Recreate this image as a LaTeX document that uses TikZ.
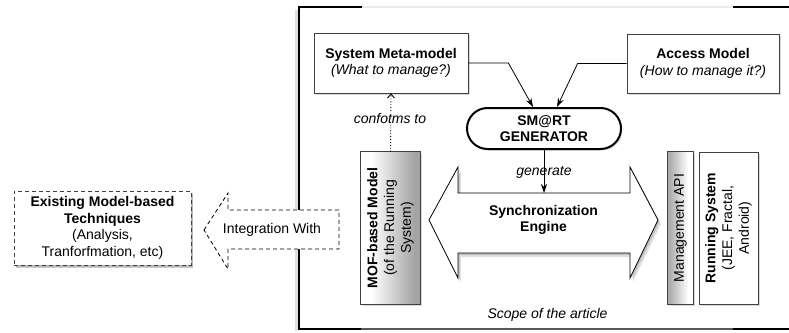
\documentclass[tikz,border=0pt]{standalone}
\usepackage{fontspec}
\setmainfont{Liberation Sans}
\usetikzlibrary{arrows.meta,shapes.misc,shadows,calc}
\begin{document}
\begin{tikzpicture}[x=1pt,y=-1pt,
  font=\fontsize{14}{16.7}\selectfont,
  shad/.style={drop shadow={shadow xshift=1.5pt,shadow yshift=-1.5pt,opacity=.3}},
  box/.style={draw=black!75, line width=0.8pt, fill=white, align=center, inner sep=2pt, shad},
  gbox/.style={draw=black!75, line width=0.8pt, fill=white, inner sep=0pt, shad},
  conn/.style={line width=0.8pt, -{Stealth[length=9pt,width=6pt]}},
]
\useasboundingbox (0,0) rectangle (789,332);

% scope frame
\draw[line width=3pt, black!12] (296,10) -- (296,331);
\draw[line width=1.5pt, black!8] (362,7) -- (733,7);
\draw[line width=2pt, black!65] (361,329) -- (733,329);
\draw[line width=2pt, black] (362,7) -- (299,7) -- (299,329) -- (361,329);
\draw[line width=2pt, black] (733,7) -- (789,7);
\draw[line width=2pt, black] (733,329) -- (789,329);

% top boxes
\node[box, minimum width=154pt, minimum height=60pt] (sysmm) at (391,63)
  {\textbf{System Meta-model}\\\textit{(What to manage?)}};
\node[box, minimum width=152pt, minimum height=59pt] (access) at (703,63.5)
  {\textbf{Access Model}\\\textit{(How to manage it?)}};
\node[draw, line width=2pt, rounded rectangle, fill=white, minimum width=158pt,
  minimum height=41pt, align=center, inner sep=2pt, shad,
  font=\fontsize{14}{16.7}\selectfont\bfseries] (gen) at (544,128.5) {SM@RT\\GENERATOR};

% vertical boxes with left-right gradients
\node[gbox, minimum width=59pt, minimum height=152pt] (mofbg) at (390.5,228) {};
\foreach \i in {0,...,58} {
  \pgfmathsetmacro\c{min(36,max(0,(\i-10)*36/44))}
  \fill[black!\c] (361+\i,152) rectangle (362.2+\i,304);
}
\draw[draw=black!75, line width=0.8pt] (mofbg.south west) rectangle (mofbg.north east);
\node[rotate=90, align=center] (mof) at (mofbg.center)
  {\textbf{MOF-based Model}\\(of the Running\\System)};

\node[gbox, minimum width=25pt, minimum height=152pt] (mapibg) at (680.5,228) {};
\foreach \i in {0,...,24} {
  \pgfmathsetmacro\c{min(32,max(0,(20-\i)*32/18))}
  \fill[black!\c] (668+\i,152) rectangle (669.2+\i,304);
}
\draw[draw=black!75, line width=0.8pt] (mapibg.south west) rectangle (mapibg.north east);
\node[rotate=90] (mapi) at (mapibg.center) {Management API};

\node[box, rotate=90, minimum width=152pt, minimum height=59pt] (runsys) at (728.5,228)
  {\textbf{Running System}\\(JEE, Fractal,\\Android)};

% synchronization engine double arrow
\fill[black, opacity=.12, shift={(3,4)}] (429,220) -- (458,167) -- (458,193) -- (630,193) -- (630,167)
  -- (658,220) -- (630,278) -- (630,253) -- (458,253) -- (458,278) -- cycle;
\fill[black, opacity=.15, shift={(1.5,2)}] (429,220) -- (458,167) -- (458,193) -- (630,193) -- (630,167)
  -- (658,220) -- (630,278) -- (630,253) -- (458,253) -- (458,278) -- cycle;
\draw[line width=0.8pt, fill=white] (429,220) -- (458,167) -- (458,193) -- (630,193) -- (630,167)
  -- (658,220) -- (630,278) -- (630,253) -- (458,253) -- (458,278) -- cycle;
\node[align=center, font=\fontsize{14}{16.7}\selectfont\bfseries] (sync) at (543.5,220)
  {Synchronization\\Engine};
\coordinate (synctop) at (544,193);

% integration arrow
\draw[line width=0.8pt, dash pattern=on 4pt off 3pt, fill=white] (204,230) -- (228,193) -- (228,210)
  -- (339,210) -- (339,249) -- (228,249) -- (228,269) -- cycle;
\node (integ) at (272,230) {Integration With};

% existing techniques box
\node[box, dash pattern=on 4pt off 3pt, minimum width=177pt, minimum height=74pt,
  drop shadow={shadow xshift=2pt,shadow yshift=-3pt,opacity=.4}] (exist) at (102.5,228)
  {\textbf{Existing Model-based}\\\textbf{Techniques}\\(Analysis,\\Tranforfmation, etc)};

% connectors
\draw[conn] (sysmm.east) -- ++(40,0) -- ($(gen.north)+(-11,0)$);
\draw[conn] (access.west) -- ++(-49,0) -- ($(gen.north)+(13,0)$);
\draw[conn] (gen.south) -- (synctop);
\node (genlbl) at (544,172) {\itshape generate};
\draw[dotted, line width=0.9pt, -{Straight Barb[length=4pt,width=7pt]}] (mofbg.north) -- (sysmm.south);
\node[fill=white, inner sep=1pt] (conf) at (390,118) {\itshape confotms to};

\node (scope) at (547.5,315) {\itshape Scope of the article};
\end{tikzpicture}
\end{document}
